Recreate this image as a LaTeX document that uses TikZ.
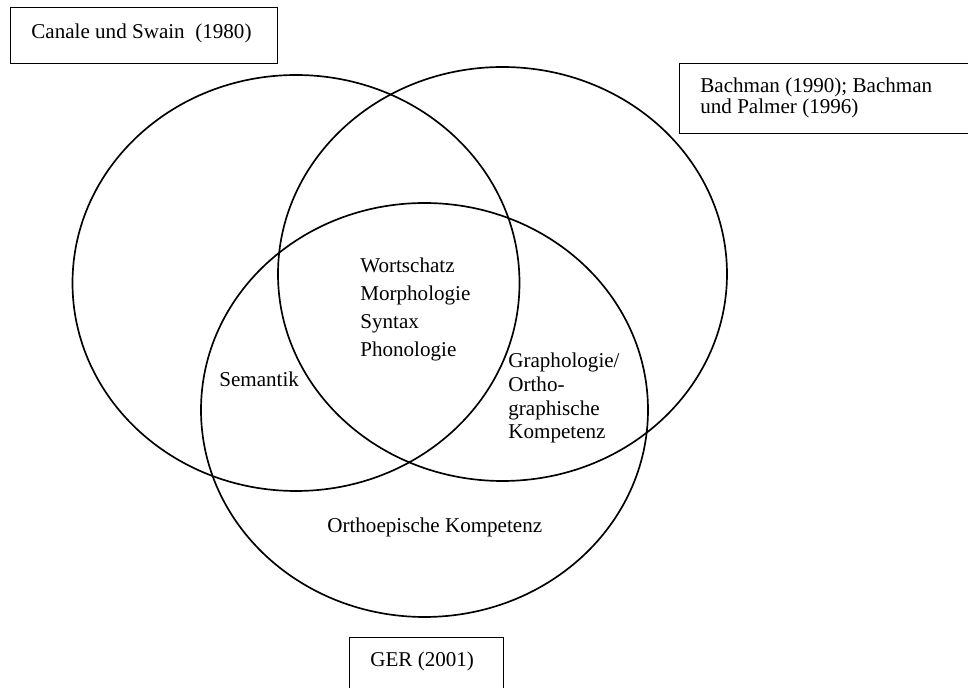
\documentclass[tikz,border=0pt]{standalone}
\usepackage{fontspec}
\setmainfont{Liberation Serif}
\begin{document}
\begin{tikzpicture}[x=0.02cm, y=-0.02cm,
    ring/.style={line width=0.95pt},
    frame/.style={line width=0.55pt},
    txt/.style={anchor=base west, inner sep=0pt, align=left, font=\fontsize{12}{#1}\selectfont},
    txt/.default=14]
    \useasboundingbox (0,0) rectangle (968,688);
    \draw[ring] (296,283) ellipse [x radius=223.5, y radius=208];
    \draw[ring] (502.5,274) ellipse [x radius=224.5, y radius=207];
    \draw[ring] (424.5,410) ellipse [x radius=223.5, y radius=207];
    \draw[frame] (10,7) rectangle (277,63);
    \draw[frame] (679,63) rectangle (972,133);
    \draw[frame] (349,637) rectangle (503,692);
    \node[txt] (canale) at (31,39) {Canale und Swain\ \ (1980)};
    \node[txt=12.2] (bachman) at (700,114) {Bachman (1990); Bachman\\und Palmer (1996)};
    \node[txt] (ger) at (370,667) {GER (2001)};
    \node[txt=16.1] (kern) at (360,357) {Wortschatz\\Morphologie\\Syntax\\Phonologie};
    \node[txt] (semantik) at (219,387) {Semantik};
    \node[txt=13.6] (grapho) at (508,439) {Graphologie/\\Ortho-\\graphische\\Kompetenz};
    \node[txt] (orthoep) at (327,533) {Orthoepische Kompetenz};
\end{tikzpicture}
\end{document}
